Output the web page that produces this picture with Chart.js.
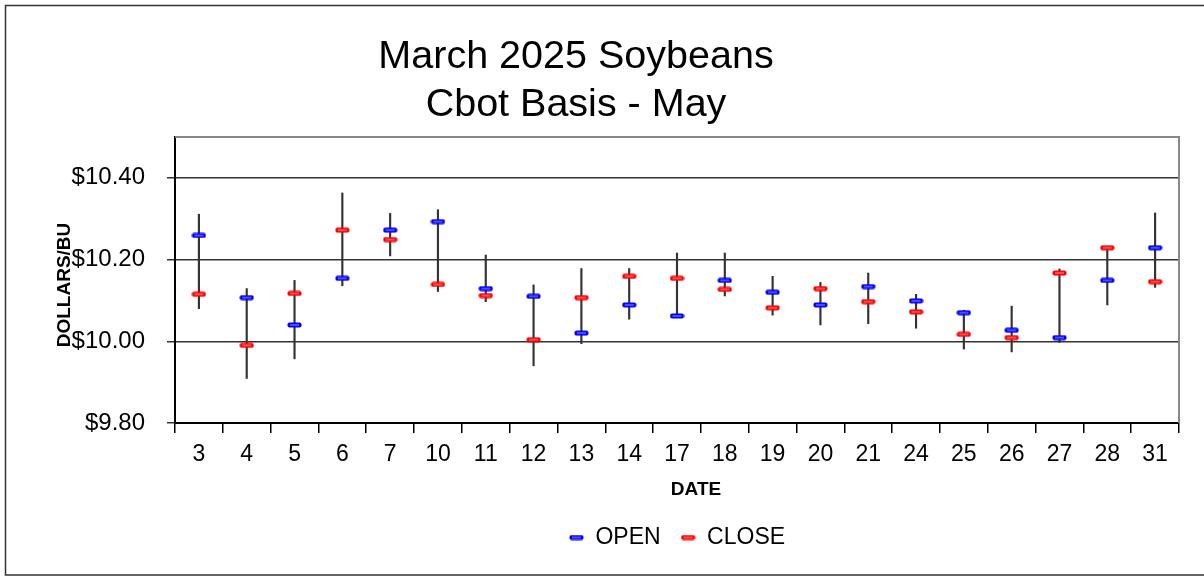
<!DOCTYPE html>
<html>
<head>
<meta charset="utf-8">
<script src="https://cdn.jsdelivr.net/npm/chart.js@4"></script>
<style>
  html, body { margin: 0; padding: 0; background: #fff; }
  #wrap { width: 1204px; height: 577px; position: relative; }
</style>
</head>
<body>
<div id="wrap"><canvas id="chart"></canvas></div>
<script>
// values
const dates = ['3','4','5','6','7','10','11','12','13','14','17','18','19','20','21','24','25','26','27','28','31'];
const openVals  = [10.259,10.107,10.040,10.154,10.272,10.293,10.129,10.110,10.020,10.089,10.062,10.149,10.120,10.089,10.134,10.099,10.070,10.027,10.009,10.149,10.229];
const closeVals = [10.115,9.990,10.117,10.272,10.249,10.139,10.112,10.004,10.107,10.159,10.154,10.127,10.082,10.129,10.097,10.072,10.017,10.009,10.167,10.229,10.146];
const highVals  = [10.311,10.129,10.149,10.363,10.313,10.322,10.211,10.138,10.178,10.178,10.216,10.216,10.159,10.144,10.167,10.115,10.076,10.086,10.177,10.229,10.314];
const lowVals   = [10.080,9.909,9.957,10.136,10.209,10.122,10.097,9.940,9.994,10.054,10.060,10.111,10.064,10.040,10.043,10.032,9.981,9.974,9.997,10.089,10.132];
const yTicks = [9.80, 10.00, 10.20, 10.40];

const FONT = "'Liberation Sans', Arial, sans-serif";

// little dash marker used for open / close
function makeDash(color, inner) {
  const c = document.createElement('canvas');
  c.width = 15; c.height = 6;
  const g = c.getContext('2d');
  g.fillStyle = color;
  g.beginPath();
  g.roundRect(0.5, 0.5, 14, 5, 2);
  g.fill();
  g.fillStyle = inner;
  g.fillRect(3, 2.5, 9, 1);
  return c;
}
const blueDash = makeDash('#0000ff', '#9a9aff');
const redDash = makeDash('#ff0000', '#ff9a9a');

const extras = {
  id: 'extras',
  beforeDraw(chart) {
    const ctx = chart.ctx;
    ctx.save();
    ctx.strokeStyle = '#333';
    ctx.lineWidth = 1.5;
    ctx.beginPath();
    ctx.moveTo(1204, 5.5); ctx.lineTo(5.5, 5.5); ctx.lineTo(5.5, 575); ctx.lineTo(1204, 575);
    ctx.stroke();
    ctx.restore();
  },
  afterDatasetsDraw(chart) {
    const {ctx, chartArea: a} = chart;
    ctx.save();
    // top / right frame of plot area
    ctx.strokeStyle = '#888';
    ctx.lineWidth = 2;
    ctx.beginPath();
    ctx.moveTo(a.left, a.top); ctx.lineTo(a.right, a.top); ctx.lineTo(a.right, a.bottom);
    ctx.stroke();

    ctx.fillStyle = '#000';
    ctx.textAlign = 'center';
    ctx.textBaseline = 'alphabetic';
    ctx.font = '39.5px ' + FONT;
    ctx.fillText('March 2025 Soybeans', 576, 68);
    ctx.fillText('Cbot Basis - May', 576, 116);

    ctx.font = 'bold 19px ' + FONT;
    ctx.fillText('DATE', 696, 495);

    ctx.translate(70, (a.top + a.bottom) / 2 + 5);
    ctx.rotate(-Math.PI / 2);
    ctx.fillText('DOLLARS/BU', 0, 0);
    ctx.restore();
  }
};

new Chart(document.getElementById('chart'), {
  type: 'bar',
  data: {
    labels: dates,
    datasets: [
      {
        label: 'range',
        data: lowVals.map((lo, i) => [lo, highVals[i]]),
        backgroundColor: '#333',
        barThickness: 1.5,
        order: 2
      },
      {
        type: 'line',
        label: 'OPEN',
        data: openVals,
        showLine: false,
        pointStyle: blueDash,
        order: 1
      },
      {
        type: 'line',
        label: 'CLOSE',
        data: closeVals,
        showLine: false,
        pointStyle: redDash,
        order: 1
      }
    ]
  },
  options: {
    responsive: true,
    maintainAspectRatio: false,
    animation: false,
    layout: { padding: { top: 137, right: 25, left: 0, bottom: 18 } },
    plugins: {
      tooltip: { enabled: false },
      title: { display: false },
      legend: {
        position: 'bottom',
        fullSize: false,
        labels: {
          usePointStyle: true,
          pointStyleWidth: 15,
          boxHeight: 6,
          padding: 20,
          color: '#000',
          font: { family: FONT, size: 23 },
          filter: item => item.text !== 'range'
        }
      }
    },
    scales: {
      x: {
        offset: true,
        afterFit: s => { s.height = 83; },
        grid: { offset: true, drawOnChartArea: false, color: '#000', lineWidth: 1.5, tickLength: 10 },
        border: { color: '#000', width: 2 },
        ticks: { color: '#000', font: { family: FONT, size: 23 }, padding: 8, maxRotation: 0, autoSkip: false }
      },
      y: {
        min: 9.8,
        max: 10.5,
        afterFit: s => { s.width = 175; },
        afterBuildTicks: s => { s.ticks = yTicks.map(v => ({ value: v })); },
        grid: { color: '#333', lineWidth: 1.5, tickLength: 8 },
        border: { color: '#000', width: 2 },
        ticks: {
          color: '#000',
          padding: 22,
          font: { family: FONT, size: 24 },
          callback: v => '$' + v.toFixed(2)
        }
      }
    }
  },
  plugins: [extras]
});
</script>
</body>
</html>
